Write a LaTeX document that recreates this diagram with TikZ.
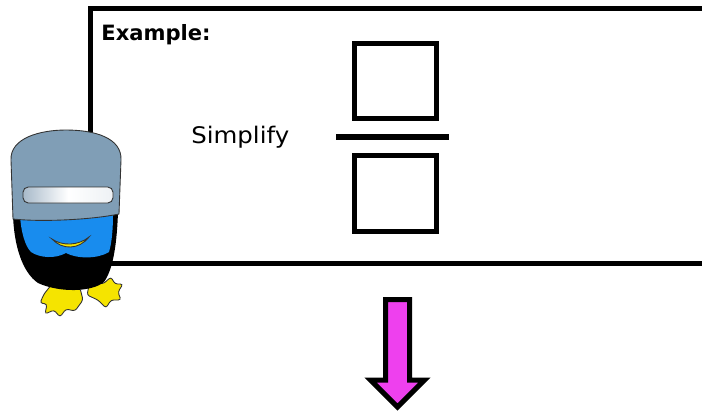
\documentclass[tikz,border=0pt]{standalone}
\usepackage{fontspec}
\setmainfont{DejaVu Sans}
\usetikzlibrary{positioning}

\definecolor{helmetgray}{RGB}{128,158,182}
\definecolor{visorgray}{RGB}{168,186,202}
\definecolor{faceblue}{RGB}{24,140,238}
\definecolor{beakyellow}{RGB}{245,228,0}
\definecolor{arrowpink}{RGB}{238,64,238}

\begin{document}
\begin{tikzpicture}[
  x=0.02cm, y=-0.02cm,
  frame/.style   = {draw, line width=0.1cm, line cap=rect},
  slot/.style    = {draw, line width=0.1cm, rectangle, minimum width=1.64cm,
                    minimum height=1.51cm, inner sep=0pt},
  bar/.style     = {draw, line width=0.12cm},
  label/.style   = {font=\fontsize{13}{15}\selectfont\addfontfeature{FakeStretch=1.07},
                    anchor=base west, inner sep=0pt},
  title/.style   = {font=\fontsize{12}{14}\selectfont\bfseries, anchor=base west, inner sep=0pt},
  outline/.style = {draw=black!80, line width=0.5pt},
  fatarrow/.style= {draw, line width=0.1cm, fill=arrowpink, line join=miter},
]
\clip (0,0) rectangle (702,414);

% --- example frame (runs off to the right) ------------------------------
\draw[frame] (720,8.5) -- (90,8.5) -- (90,263.5) -- (720,263.5);

\node[title] (head) at (101,40) {Example:};
\node[label] (simp) at (191,143) {Simplify};

% --- empty fraction ------------------------------------------------------
\node[slot] (num) at (395.5,81) {};
\node[slot] (den) at (395.5,193.5) {};
\coordinate (barl) at (336,137);
\coordinate (barr) at (449,137);
\draw[bar] (barl) -- (barr);

% --- down arrow ----------------------------------------------------------
\draw[fatarrow] (385.5,299.5) -- (409.5,299.5) -- (409.5,380) -- (424.5,380)
  -- (397.5,407) -- (370.5,380) -- (385.5,380) -- cycle;

% --- mascot: feet ---------------------------------------------------------
\draw[outline, fill=beakyellow, rounded corners=1.5pt]
  (52,284) -- (44,294) -- (40,303) -- (47,304) -- (45,314) -- (54,310)
  -- (60,317) -- (66,309) -- (75,311) -- (83,300) -- (80,288) -- cycle;
\draw[outline, fill=beakyellow, rounded corners=1.5pt]
  (90,281) -- (103,284) -- (111,277) -- (115,284) -- (123,284) -- (118,292)
  -- (121,300) -- (111,300) -- (106,308) -- (98,300) -- (87,295) -- cycle;

% --- mascot: body and face -------------------------------------------------
\fill[black] (13,215) .. controls (14,245) and (22,272) .. (38,283)
  .. controls (60,293) and (92,292) .. (104,282)
  .. controls (114,268) and (117,240) .. (118,212) -- cycle;
\fill[faceblue] (20,215) .. controls (21,232) and (25,246) .. (31,252)
  .. controls (40,258) and (55,259) .. (66,253)
  .. controls (77,259) and (98,259) .. (109,252)
  .. controls (112,242) and (113,228) .. (113,214) -- cycle;
\draw[outline, fill=beakyellow]
  (52,239) .. controls (62,246) and (78,246) .. (89,237)
  .. controls (79,250) and (62,250) .. (52,239) -- cycle;

% --- mascot: helmet and visor ----------------------------------------------
\draw[outline, fill=helmetgray]
  (13,219) -- (11,160) .. controls (10,138) and (40,130) .. (66,130)
  .. controls (95,130) and (122,138) .. (121,160) -- (119,214)
  .. controls (90,220) and (40,222) .. (13,219) -- cycle;
\draw[outline, rounded corners=3pt, left color=visorgray, right color=white!80!visorgray,
  middle color=white]
  (23,187) rectangle (113,203);

\end{tikzpicture}
\end{document}
